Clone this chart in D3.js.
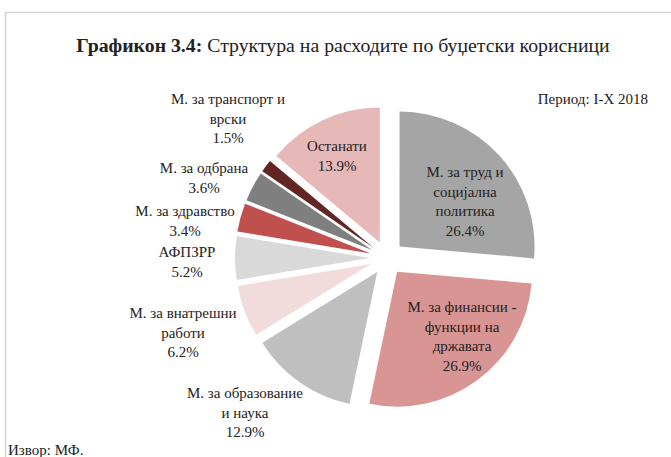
<!DOCTYPE html>
<html lang="mk">
<head>
<meta charset="utf-8">
<title>Графикон 3.4</title>
<script src="https://d3js.org/d3.v7.min.js"></script>
<style>
  body { margin: 0; background: #fff; }
  text { font-family: "Liberation Serif", "DejaVu Serif", serif; fill: #222; }
</style>
</head>
<body>
<svg id="chart" width="671" height="457"></svg>
<script>
// data, clockwise from 12 o'clock
var categories = ["М. за труд и социјална политика", "М. за финансии - функции на државата",
  "М. за образование и наука", "М. за внатрешни работи", "АФПЗРР",
  "М. за здравство", "М. за одбрана", "М. за транспорт и врски", "Останати"]
var values = [26.4, 26.9, 12.9, 6.2, 5.2, 3.4, 3.6, 1.5, 13.9]
// label lines as shown on the chart (last line is the percentage)
var labelLines = [
  ["М. за труд и", "социјална", "политика"],
  ["М. за финансии -", "функции на", "државата"],
  ["М. за образование", "и наука"],
  ["М. за внатрешни", "работи"],
  ["АФПЗРР"],
  ["М. за здравство"],
  ["М. за одбрана"],
  ["М. за транспорт и", "врски"],
  ["Останати"]
]

// styles / layout
var colors = ["#a5a5a5", "#d99594", "#bfbfbf", "#f2dcdb", "#d9d9d9", "#c0504d", "#7f7f7f", "#632523", "#e6b9b8"]
var labelPos = [[465, 177], [462, 312], [245, 398], [183, 318], [187, 257],
  [185, 216], [204, 173], [228, 104], [337, 151]]
var lineH = 19.5
var cx = 387, cy = 258, radius = 135, explode = 17

var svg = d3.select("#chart")

// frame lines
svg.append("line").attr("x1", 5).attr("x2", 671).attr("y1", 12.5).attr("y2", 12.5)
  .attr("stroke", "#d4d4d4").attr("stroke-width", 1.5)
svg.append("line").attr("x1", 5.5).attr("x2", 5.5).attr("y1", 12).attr("y2", 457)
  .attr("stroke", "#d4d4d4").attr("stroke-width", 1.5)

// title
var title = svg.append("text").attr("x", 343).attr("y", 52)
  .attr("text-anchor", "middle").style("font-size", "19.8px")
title.append("tspan").attr("font-weight", "bold").text("Графикон 3.4:")
title.append("tspan").text(" Структура на расходите по буџетски корисници")

svg.append("text").attr("x", 648).attr("y", 104).attr("text-anchor", "end")
  .style("font-size", "15px").text("Период: I-X 2018")

svg.append("text").attr("x", 8).attr("y", 455)
  .style("font-size", "15px").text("Извор: МФ.")

// pie
var pie = d3.pie().sort(null).value(function(d) { return d })
var arc = d3.arc().innerRadius(0).outerRadius(radius)
var arcs = pie(values)

var g = svg.append("g").attr("transform", "translate(" + cx + "," + cy + ")")

g.selectAll("path")
  .data(arcs)
  .enter()
  .append("path")
  .attr("d", arc)
  .attr("fill", function(d, i) { return colors[i] })
  .attr("transform", function(d) {
    var mid = (d.startAngle + d.endAngle) / 2
    return "translate(" + (explode * Math.sin(mid)) + "," + (-explode * Math.cos(mid)) + ")"
  })

// labels
var fmt = d3.format(".1f")
var labels = svg.selectAll("text.lbl")
  .data(arcs)
  .enter()
  .append("text")
  .attr("class", "lbl")
  .attr("text-anchor", "middle")
  .style("font-size", "15px")

labels.each(function(d, i) {
  var lines = labelLines[i].concat([fmt(d.data) + "%"])
  var t = d3.select(this)
  lines.forEach(function(l, k) {
    t.append("tspan")
      .attr("x", labelPos[i][0])
      .attr("y", labelPos[i][1] + k * lineH)
      .text(l)
  })
})
</script>
</body>
</html>
